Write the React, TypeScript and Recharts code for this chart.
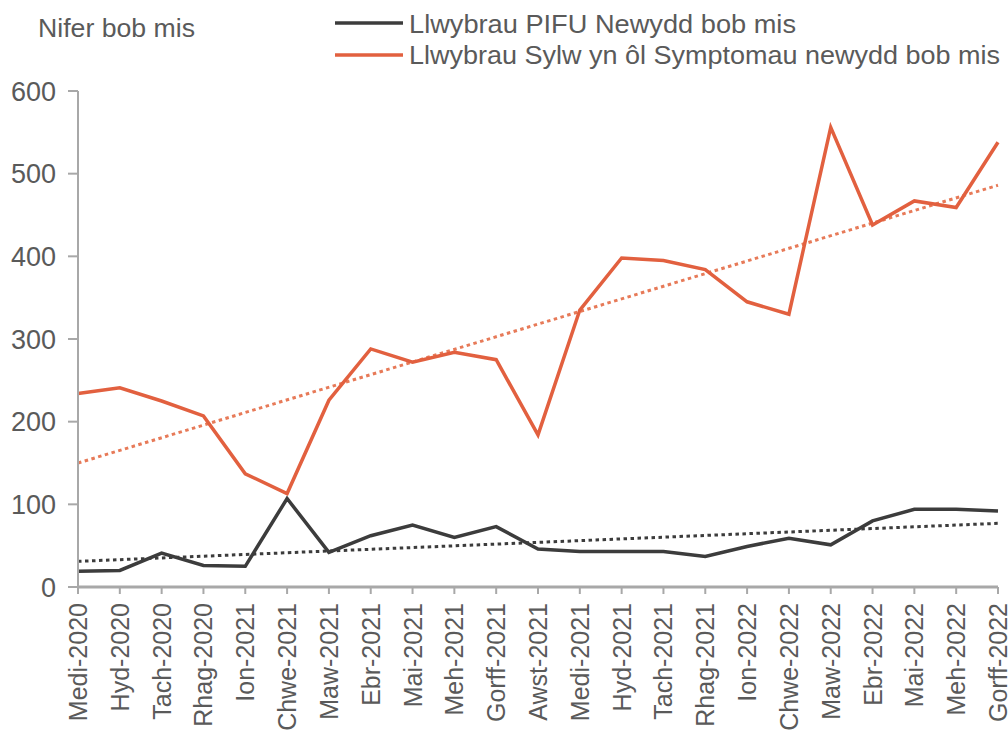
import React from 'react';
import { LineChart, Line, XAxis, YAxis, ReferenceLine } from 'recharts';

const months = [
  'Medi-2020', 'Hyd-2020', 'Tach-2020', 'Rhag-2020', 'Ion-2021', 'Chwe-2021',
  'Maw-2021', 'Ebr-2021', 'Mai-2021', 'Meh-2021', 'Gorff-2021', 'Awst-2021',
  'Medi-2021', 'Hyd-2021', 'Tach-2021', 'Rhag-2021', 'Ion-2022', 'Chwe-2022',
  'Maw-2022', 'Ebr-2022', 'Mai-2022', 'Meh-2022', 'Gorff-2022',
];

const pifuNew = [19, 20, 41, 26, 25, 107, 42, 62, 75, 60, 73, 46, 43, 43, 43, 37, 49, 59, 51, 80, 94, 94, 92];
const sosNew = [234, 241, 225, 207, 137, 113, 226, 288, 272, 284, 275, 184, 335, 398, 395, 384, 345, 330, 556, 438, 467, 459, 538];

const pifuTrend = [31, 77];
const sosTrend = [150, 486];

const yTicks = [0, 100, 200, 300, 400, 500, 600];

const seriesNames = ['Llwybrau PIFU Newydd bob mis', 'Llwybrau Sylw yn ôl Symptomau newydd bob mis'];
const yTitle = 'Nifer bob mis';

const data = months.map((m, i) => ({ month: m, pifu: pifuNew[i], sos: sosNew[i] }));

const FONT = '"Liberation Sans", Arial, Helvetica, sans-serif';
const TEXT = '#5a5a5a';
const BLACK = '#3c3c3c';
const ORANGE = '#e2603f';
const ORANGE_TREND = '#e77a58';
const AXIS = '#a8a8a8';

function XTick(props: any) {
  const { x, y, payload } = props;
  return (
    <text
      x={0}
      y={0}
      transform={`translate(${x},${y}) rotate(-90)`}
      textAnchor="end"
      dy="0.36em"
      fontSize={25}
      fill={TEXT}
      fontFamily={FONT}
    >
      {payload.value}
    </text>
  );
}

export default function App() {
  const first = months[0];
  const last = months[months.length - 1];
  return (
    <div style={{ position: 'absolute', left: 0, top: 0, width: 1008, height: 736, background: '#fff' }}>
      <LineChart
        width={1008}
        height={736}
        data={data}
        margin={{ top: 91, right: 10, left: 18, bottom: 0 }}
      >
        <XAxis
          dataKey="month"
          interval={0}
          height={149}
          tickSize={7}
          tickMargin={9}
          tick={<XTick />}
          stroke={AXIS}
          strokeWidth={3}
          tickLine={{ stroke: AXIS, strokeWidth: 2 }}
          padding={{ left: 0, right: 0 }}
        />
        <YAxis
          width={60}
          domain={[0, 600]}
          ticks={yTicks}
          tickSize={10}
          tickMargin={12}
          stroke={AXIS}
          strokeWidth={2}
          tick={{ fontSize: 27, fill: TEXT, fontFamily: FONT }}
        />
        <ReferenceLine
          segment={[{ x: first, y: sosTrend[0] }, { x: last, y: sosTrend[1] }]}
          stroke={ORANGE_TREND}
          strokeWidth={3}
          strokeDasharray="3.5 3.5"
          ifOverflow="visible"
        />
        <ReferenceLine
          segment={[{ x: first, y: pifuTrend[0] }, { x: last, y: pifuTrend[1] }]}
          stroke={BLACK}
          strokeWidth={3}
          strokeDasharray="3.5 3.5"
          ifOverflow="visible"
        />
        <Line
          dataKey="pifu"
          name={seriesNames[0]}
          stroke={BLACK}
          strokeWidth={3.5}
          dot={false}
          activeDot={false}
          type="linear"
          isAnimationActive={false}
        />
        <Line
          dataKey="sos"
          name={seriesNames[1]}
          stroke={ORANGE}
          strokeWidth={3.5}
          dot={false}
          activeDot={false}
          type="linear"
          isAnimationActive={false}
        />
      </LineChart>
      <svg
        width={1008}
        height={80}
        style={{ position: 'absolute', left: 0, top: 0, pointerEvents: 'none' }}
      >
        <text x={38} y={37} fontSize={26} fill={TEXT} fontFamily={FONT} textLength={157} lengthAdjust="spacingAndGlyphs">{yTitle}</text>
        <line x1={335} x2={403} y1={23} y2={23} stroke={BLACK} strokeWidth={3.5} />
        <text x={409} y={33} fontSize={26} fill={TEXT} fontFamily={FONT} textLength={387} lengthAdjust="spacingAndGlyphs">{seriesNames[0]}</text>
        <line x1={335} x2={403} y1={55} y2={55} stroke={ORANGE} strokeWidth={3.5} />
        <text x={409} y={64} fontSize={26} fill={TEXT} fontFamily={FONT} textLength={591} lengthAdjust="spacingAndGlyphs">{seriesNames[1]}</text>
      </svg>
    </div>
  );
}
